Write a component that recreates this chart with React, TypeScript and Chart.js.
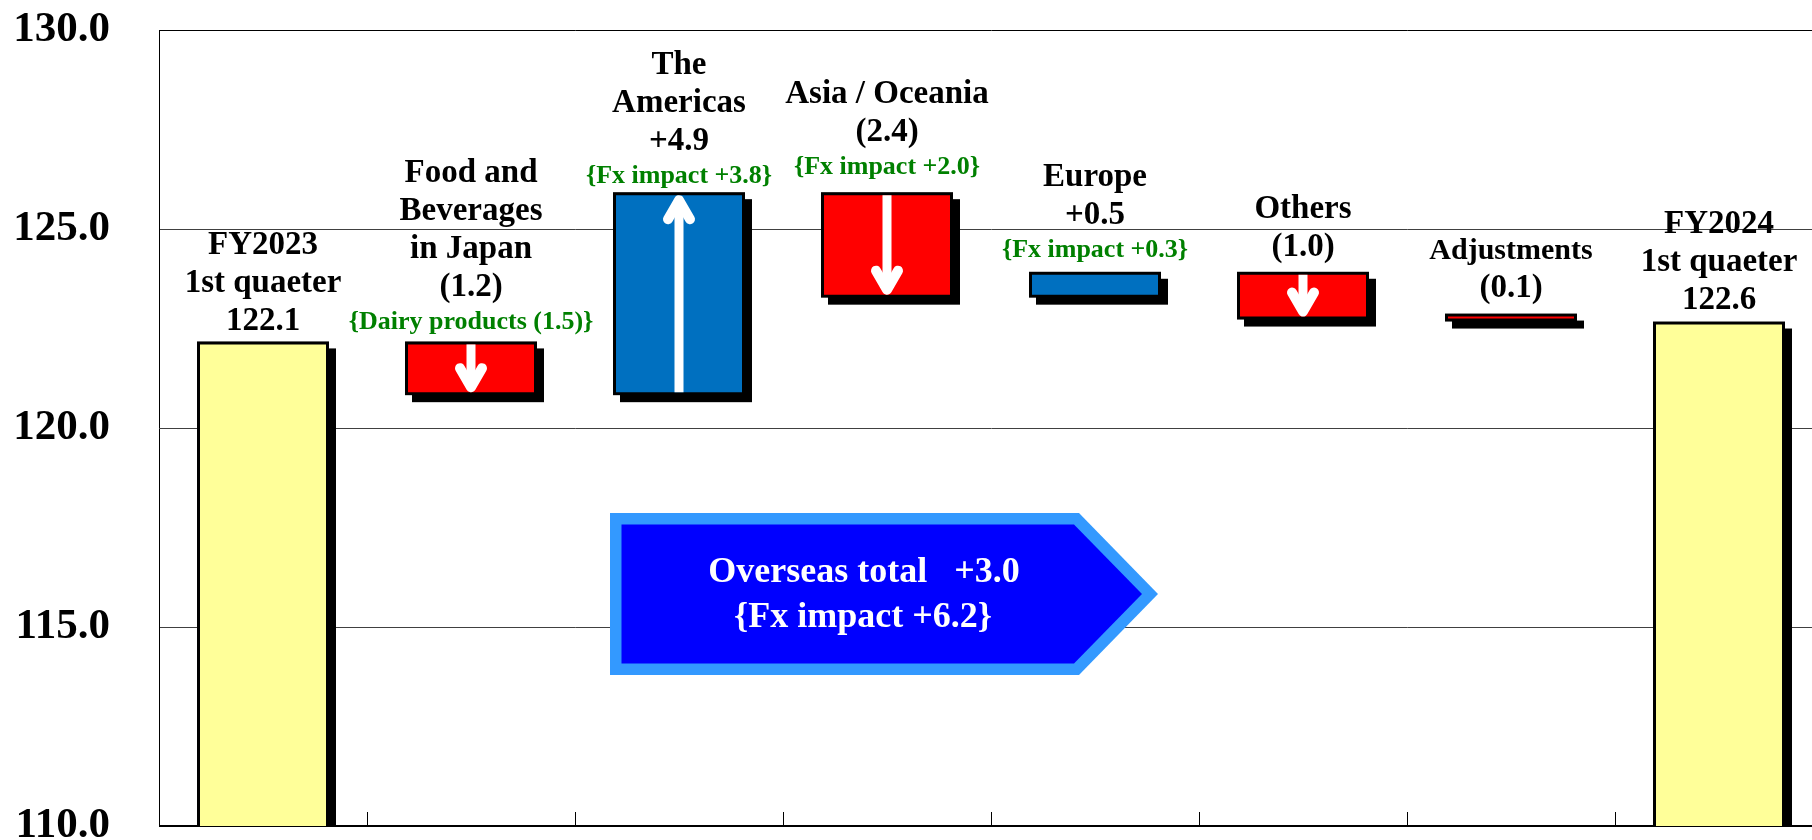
import React, { useEffect, useRef } from "react";
import { Chart, registerables } from "chart.js";

Chart.register(...registerables);

// ---- data ----
const categories = [
  "FY2023 1st quaeter",
  "Food and Beverages in Japan",
  "The Americas",
  "Asia / Oceania",
  "Europe",
  "Others",
  "Adjustments",
  "FY2024 1st quaeter",
];
const barStart = [110, 122.1, 120.9, 125.85, 123.35, 123.85, 122.8, 110];
const barEnd = [122.1, 120.9, 125.85, 123.35, 123.85, 122.8, 122.75, 122.6];
const barKind = ["total", "down", "up", "down", "up", "down", "down", "total"];
const arrowDir = [0, -1, 1, -1, 0, -1, 0, 0];
const labelLines = [
  ["FY2023", "1st quaeter", "122.1"],
  ["Food and", "Beverages", "in Japan", "(1.2)"],
  ["The", "Americas", "+4.9"],
  ["Asia / Oceania", "(2.4)"],
  ["Europe", "+0.5"],
  ["Others", "(1.0)"],
  ["Adjustments", "(0.1)"],
  ["FY2024", "1st quaeter", "122.6"],
];
const noteLines = [
  "",
  "{Dairy products (1.5)}",
  "{Fx impact +3.8}",
  "{Fx impact +2.0}",
  "{Fx impact +0.3}",
  "",
  "",
  "",
];
const yMin = 110;
const yMax = 130;
const yStep = 5;
const overseasLines = ["Overseas total   +3.0", "{Fx impact +6.2}"];

// ---- styles ----
const kindColor: Record<string, string> = {
  total: "#FFFF99",
  down: "#FF0000",
  up: "#0070C0",
};
const labelGap = [14, 15, 12, 21, 18, 19, 20, 16];
const firstLineSize = [33, 33, 33, 33, 33, 33, 30, 33];
const FONT = '"Liberation Serif", "Times New Roman", serif';
const BORDER = 3;
const SHADOW = 7;

const decorPlugin = {
  id: "decor",
  beforeDatasetsDraw(chart: any) {
    const ctx = chart.ctx;
    const ca = chart.chartArea;
    const meta = chart.getDatasetMeta(0);
    ctx.save();
    ctx.beginPath();
    ctx.rect(ca.left, ca.top - 20, ca.right - ca.left + 40, ca.bottom - ca.top + 21);
    ctx.clip();
    ctx.fillStyle = "#000";
    meta.data.forEach((el: any) => {
      const p = el.getProps(["x", "y", "base", "width"], true);
      const l = p.x - p.width / 2;
      const r = p.x + p.width / 2;
      const t = Math.min(p.y, p.base);
      const b = Math.max(p.y, p.base);
      const w = r - l + 2 * BORDER;
      const h = b - t + 2 * BORDER;
      ctx.fillRect(l - BORDER + SHADOW, t - BORDER + SHADOW, w, h);
      ctx.fillRect(l - BORDER, t - BORDER, w, h);
    });
    ctx.restore();
  },
  afterDatasetsDraw(chart: any) {
    const ctx = chart.ctx;
    const ca = chart.chartArea;
    const meta = chart.getDatasetMeta(0);
    const xs = chart.scales.x;

    // bottom tick marks at category boundaries
    ctx.save();
    ctx.strokeStyle = "#000";
    ctx.lineWidth = 1;
    const n = categories.length;
    for (let i = 0; i <= n; i++) {
      const xb = Math.round(xs.getPixelForValue(i - 0.5)) + 0.5;
      ctx.beginPath();
      ctx.moveTo(xb, ca.bottom);
      ctx.lineTo(xb, ca.bottom - 14);
      ctx.stroke();
    }
    ctx.restore();

    meta.data.forEach((el: any, i: number) => {
      const p = el.getProps(["x", "y", "base", "width"], true);
      const t = Math.min(p.y, p.base);
      const b = Math.max(p.y, p.base);
      const cx = p.x;

      // arrows
      const dir = arrowDir[i];
      if (dir !== 0) {
        ctx.save();
        ctx.strokeStyle = "#FFFFFF";
        ctx.lineWidth = 9;
        ctx.lineCap = "butt";
        const tipY = dir > 0 ? t : b;
        const tailY = dir > 0 ? b : t;
        ctx.beginPath();
        ctx.moveTo(cx, tailY);
        ctx.lineTo(cx, tipY + (dir > 0 ? 6 : -6));
        ctx.stroke();
        ctx.lineWidth = 10;
        ctx.lineCap = "round";
        ctx.lineJoin = "round";
        const s = dir > 0 ? 1 : -1;
        ctx.beginPath();
        ctx.moveTo(cx - 11, tipY + s * 24);
        ctx.lineTo(cx, tipY + s * 5);
        ctx.lineTo(cx + 11, tipY + s * 24);
        ctx.stroke();
        ctx.restore();
      }

      // labels
      ctx.save();
      ctx.textAlign = "center";
      ctx.textBaseline = "alphabetic";
      let baseline = t - labelGap[i];
      const note = noteLines[i];
      if (note) {
        ctx.font = `bold 26px ${FONT}`;
        ctx.fillStyle = "#008000";
        ctx.fillText(note, cx, baseline);
        baseline -= 33;
      }
      const lines = labelLines[i];
      ctx.fillStyle = "#000";
      for (let k = lines.length - 1; k >= 0; k--) {
        const size = k === 0 ? firstLineSize[i] : 33;
        ctx.font = `bold ${size}px ${FONT}`;
        ctx.fillText(lines[k], cx, baseline);
        baseline -= 38;
      }
      ctx.restore();
    });

    // Overseas total pentagon
    const L = 610, T = 513, B = 675, R = 1079, TIP = 1158;
    const MY = (T + B) / 2;
    ctx.save();
    ctx.fillStyle = "#3399FF";
    ctx.beginPath();
    ctx.moveTo(L, T);
    ctx.lineTo(R, T);
    ctx.lineTo(TIP, MY);
    ctx.lineTo(R, B);
    ctx.lineTo(L, B);
    ctx.closePath();
    ctx.fill();
    const bw = 11.5;
    ctx.fillStyle = "#0000FF";
    ctx.beginPath();
    ctx.moveTo(L + bw, T + bw);
    ctx.lineTo(R - 5, T + bw);
    ctx.lineTo(TIP - 16, MY);
    ctx.lineTo(R - 5, B - bw);
    ctx.lineTo(L + bw, B - bw);
    ctx.closePath();
    ctx.fill();
    ctx.fillStyle = "#FFFFFF";
    ctx.font = `bold 36px ${FONT}`;
    ctx.textAlign = "center";
    ctx.textBaseline = "alphabetic";
    ctx.fillText(overseasLines[0], 864, 582);
    ctx.fillText(overseasLines[1], 863, 627);
    ctx.restore();
  },
};

export default function App() {
  const canvasRef = useRef<HTMLCanvasElement | null>(null);

  useEffect(() => {
    const canvas = canvasRef.current;
    if (!canvas) return;
    const data = categories.map((_, i) => [barStart[i], barEnd[i]]);
    const chart = new Chart(canvas, {
      type: "bar",
      data: {
        labels: categories,
        datasets: [
          {
            data: data as any,
            backgroundColor: barKind.map((k) => kindColor[k]),
            borderWidth: 0,
            barPercentage: 126 / 208,
            categoryPercentage: 1,
          },
        ],
      },
      plugins: [decorPlugin],
      options: {
        responsive: false,
        animation: false,
        devicePixelRatio: 1,
        layout: { padding: { left: 0, top: 30, right: 17, bottom: 54 } },
        plugins: {
          legend: { display: false },
          tooltip: { enabled: false },
          title: { display: false },
        },
        scales: {
          x: {
            display: false,
            offset: true,
          },
          y: {
            min: yMin,
            max: yMax,
            afterFit: (scale: any) => {
              scale.width = 159;
              scale.paddingTop = 0;
              scale.paddingBottom = 0;
            },
            ticks: {
              stepSize: yStep,
              padding: 49,
              color: "#000",
              font: { family: FONT, size: 43, weight: "bold" },
              callback: (v: any) => Number(v).toFixed(1),
            },
            grid: {
              drawTicks: false,
              tickLength: 0,
              color: (c: any) =>
                c.tick && (c.tick.value === yMin || c.tick.value === yMax) ? "#000" : "#404040",
              lineWidth: (c: any) => (c.tick && c.tick.value === yMin ? 2 : 1),
            },
            border: { display: true, color: "#000", width: 1 },
          },
        },
      },
    });
    return () => chart.destroy();
  }, []);

  return (
    <div
      style={{
        position: "fixed",
        left: 0,
        top: 0,
        width: 1812,
        height: 840,
        overflow: "hidden",
        background: "#fff",
      }}
    >
      <canvas ref={canvasRef} width={1840} height={880} style={{ display: "block" }} />
    </div>
  );
}
